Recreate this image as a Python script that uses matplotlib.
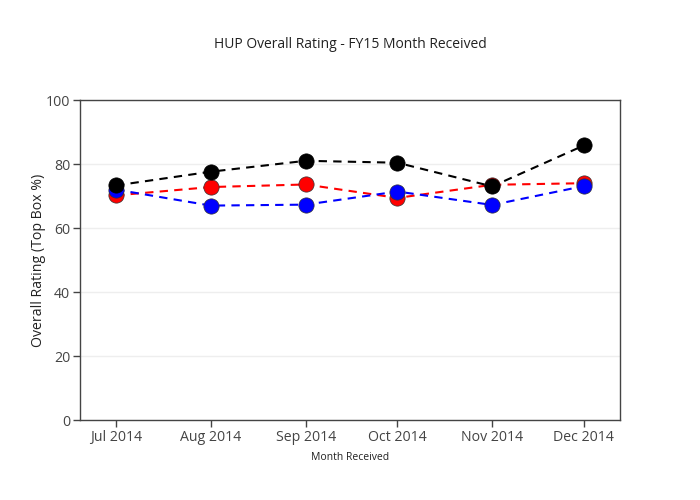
import numpy as np
import matplotlib
matplotlib.use("Agg")
import matplotlib.pyplot as plt
from datetime import datetime, timedelta

plt.rcParams['font.family'] = ['Open Sans', 'DejaVu Sans']

# data
months = [datetime(2014, m, 1) for m in range(7, 13)]
tick_labels = ['Jul 2014', 'Aug 2014', 'Sep 2014', 'Oct 2014', 'Nov 2014', 'Dec 2014']
black_vals = [73.3, 77.6, 81.0, 80.4, 73.0, 85.8]
red_vals = [70.2, 72.8, 73.6, 69.4, 73.5, 74.0]
blue_vals = [72.0, 67.0, 67.3, 71.4, 67.2, 73.1]

fig = plt.figure(figsize=(7, 5), dpi=100)
ax = fig.add_axes([80 / 700, 80 / 500, 540 / 700, 320 / 500])

# red under blue, black on top
for vals, col, z in [(red_vals, 'red', 3), (blue_vals, 'blue', 4), (black_vals, 'black', 5)]:
    ax.plot(months, vals, linestyle='--', dashes=(4, 3), color=col, linewidth=1.5,
            marker='o', markersize=11, markerfacecolor=col,
            markeredgecolor='#333333' if col != 'black' else 'black',
            markeredgewidth=0.5, zorder=z)

pad = timedelta(days=11.8)
ax.set_xlim(months[0] - pad, months[-1] + pad)
ax.set_ylim(0, 100)
ax.set_yticks([0, 20, 40, 60, 80, 100])
ax.set_xticks(months)
ax.set_xticklabels(tick_labels)

ax.grid(axis='y', color='#eeeeee', linewidth=1)
ax.set_axisbelow(True)
for s in ax.spines.values():
    s.set_color('#444444')
    s.set_linewidth(1)
ax.tick_params(axis='both', colors='#444444', labelsize=10.2, length=5, width=1, pad=2)
for lab in ax.get_xticklabels() + ax.get_yticklabels():
    lab.set_color('#444444')

ax.set_ylabel('Overall Rating (Top Box %)', fontsize=10.2, color='#222222', labelpad=0)
ax.set_xlabel('Month Received', fontsize=7.5, color='#222222', labelpad=5)
fig.text(0.5, 1 - 45 / 500, 'HUP Overall Rating - FY15 Month Received',
         ha='center', va='center', fontsize=10, color='#222222')

fig.savefig('out.png', dpi=100, facecolor='white')
